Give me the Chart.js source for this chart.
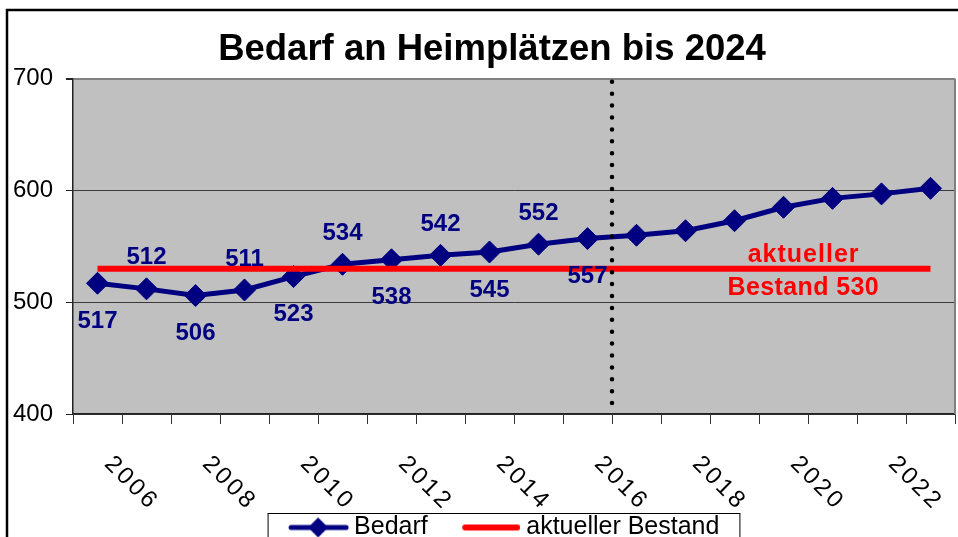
<!DOCTYPE html>
<html>
<head>
<meta charset="utf-8">
<script src="https://cdn.jsdelivr.net/npm/chart.js@4"></script>
<style>
  html, body { margin: 0; padding: 0; overflow: hidden; background: #fff; }
  #wrap { width: 958px; height: 550px; }
</style>
</head>
<body>
<div id="wrap"><canvas id="c" width="958" height="550"></canvas></div>
<script>
// ---- data ----
const years = ['2006','2007','2008','2009','2010','2011','2012','2013','2014','2015','2016','2017','2018','2019','2020','2021','2022','2023'];
const tickLabels = ['2006','2008','2010','2012','2014','2016','2018','2020','2022'];
const bedarf = [517, 512, 506, 511, 523, 534, 538, 542, 545, 552, 557, 560, 564, 573, 585, 593, 597, 602];
const bestand = [530, 530, 530, 530, 530, 530, 530, 530, 530, 530, 530, 530, 530, 530, 530, 530, 530, 530];
const labelledYears = ['2006','2007','2008','2009','2010','2011','2012','2013','2014','2015','2016'];
const markerYear = '2016';
const yTicks = [400, 500, 600, 700];
const titleText = 'Bedarf an Heimplätzen bis 2024';
const seriesNames = ['Bedarf', 'aktueller Bestand'];
const bestandText = ['aktueller', 'Bestand'];

const FONT = "'Liberation Sans', Arial, Helvetica, sans-serif";
const NAVY = '#000080';
const RED = '#FF0000';

// draw text with manual letter spacing
function spacedText(ctx, text, x, y, spacing, align) {
  const chars = Array.from(text);
  const widths = chars.map(ch => ctx.measureText(ch).width);
  const total = widths.reduce((s, w) => s + w, 0) + spacing * (chars.length - 1);
  let cx = x;
  if (align === 'center') cx = x - total / 2;
  else if (align === 'right') cx = x - total;
  const prevAlign = ctx.textAlign;
  ctx.textAlign = 'left';
  chars.forEach((ch, i) => {
    ctx.fillText(ch, cx, y);
    cx += widths[i] + spacing;
  });
  ctx.textAlign = prevAlign;
}

// legend icons
function makeBedarfIcon() {
  const c = document.createElement('canvas');
  c.width = 92; c.height = 26;
  const g = c.getContext('2d');
  g.strokeStyle = NAVY; g.lineWidth = 5; g.lineCap = 'round';
  g.beginPath(); g.moveTo(34, 13); g.lineTo(89, 13); g.stroke();
  g.fillStyle = NAVY;
  g.beginPath(); g.moveTo(61, 3); g.lineTo(71, 13); g.lineTo(61, 23); g.lineTo(51, 13); g.closePath(); g.fill();
  return c;
}
function makeBestandIcon() {
  const c = document.createElement('canvas');
  c.width = 90; c.height = 10;
  const g = c.getContext('2d');
  g.strokeStyle = RED; g.lineWidth = 6; g.lineCap = 'round';
  g.beginPath(); g.moveTo(35, 5); g.lineTo(87, 5); g.stroke();
  return c;
}
const icons = [makeBedarfIcon(), makeBestandIcon()];

const decorPlugin = {
  id: 'decor',
  afterLayout(chart) {
    // let the y tick labels use the space left of the scale box (avoid clipping)
    const ys = chart.scales.y;
    ys.left = 0;
    ys.width = ys.right;
  },
  beforeDraw(chart) {
    const {ctx, chartArea: a} = chart;
    ctx.save();
    ctx.fillStyle = '#C0C0C0';
    ctx.fillRect(a.left, a.top, a.right - a.left, a.bottom - a.top);
    // outer frame
    ctx.strokeStyle = '#000';
    ctx.lineWidth = 2.5;
    ctx.beginPath();
    ctx.moveTo(7, chart.height + 5);
    ctx.lineTo(7, 10);
    ctx.lineTo(chart.width + 5, 10);
    ctx.stroke();
    ctx.restore();
  },
  beforeDatasetsDraw(chart) {
    const {ctx, chartArea: a} = chart;
    ctx.save();
    ctx.strokeStyle = '#808080';
    ctx.lineWidth = 2;
    ctx.beginPath();
    ctx.moveTo(a.right, a.top);
    ctx.lineTo(a.right, a.bottom);
    ctx.stroke();
    ctx.restore();
  },
  afterDatasetsDraw(chart) {
    const {ctx, chartArea: a} = chart;
    const xs = chart.scales.x, ys = chart.scales.y;
    ctx.save();
    // dotted divider after marker year
    const mi = years.indexOf(markerYear);
    const dx = (xs.getPixelForValue(mi) + xs.getPixelForValue(mi + 1)) / 2;
    ctx.strokeStyle = '#000';
    ctx.lineWidth = 4.5;
    ctx.lineCap = 'round';
    ctx.setLineDash([0, 11.9]);
    ctx.beginPath();
    ctx.moveTo(dx, a.top + 3);
    ctx.lineTo(dx, a.bottom - 6);
    ctx.stroke();
    ctx.setLineDash([]);

    // data labels for Bedarf
    const meta = chart.getDatasetMeta(0);
    ctx.font = 'bold 24px ' + FONT;
    ctx.fillStyle = NAVY;
    ctx.textAlign = 'center';
    ctx.textBaseline = 'middle';
    labelledYears.forEach((yr) => {
      const i = years.indexOf(yr);
      const p = meta.data[i];
      const dy = (i % 2 === 0) ? 38 : -31;
      ctx.fillText(String(bedarf[i]), p.x, p.y + dy);
    });

    // Bestand annotation
    const by = ys.getPixelForValue(bestand[0]);
    const bx = xs.getPixelForValue(14.4);
    ctx.font = 'bold 25px ' + FONT;
    ctx.fillStyle = RED;
    spacedText(ctx, bestandText[0], bx, by - 14, 1, 'center');
    spacedText(ctx, bestandText[1] + ' ' + bestand[0], bx, by + 19, 0.4, 'center');

    // rotated x tick labels
    ctx.font = '24px ' + FONT;
    ctx.fillStyle = '#000';
    ctx.textBaseline = 'alphabetic';
    years.forEach((yr, i) => {
      if (!tickLabels.includes(yr)) return;
      const x = xs.getPixelForValue(i);
      ctx.save();
      ctx.translate(x + 6, xs.top + 51);
      ctx.rotate(Math.PI / 4);
      spacedText(ctx, yr, 0, 0, 3, 'left');
      ctx.restore();
    });
    ctx.restore();
  },
  afterDraw(chart) {
    const lg = chart.legend;
    if (!lg || !lg.legendHitBoxes || !lg.legendHitBoxes.length) return;
    const hb = lg.legendHitBoxes;
    const left = hb[0].left + 3;
    const last = hb[hb.length - 1];
    const right = last.left + last.width + 20;
    const ctx = chart.ctx;
    ctx.save();
    ctx.strokeStyle = '#000';
    ctx.lineWidth = 1;
    ctx.strokeRect(left + 0.5, lg.top + 7.5, right - left, chart.height);
    ctx.restore();
  }
};

const defaultGen = Chart.defaults.plugins.legend.labels.generateLabels;

new Chart(document.getElementById('c'), {
  type: 'line',
  data: {
    labels: years,
    datasets: [
      {
        label: seriesNames[0],
        data: bedarf,
        order: 1,
        borderColor: NAVY,
        backgroundColor: NAVY,
        borderWidth: 5,
        pointStyle: 'rectRot',
        pointRadius: 11,
        pointBorderWidth: 1,
        pointBackgroundColor: NAVY,
        pointBorderColor: NAVY,
        tension: 0,
        fill: false
      },
      {
        label: seriesNames[1],
        data: bestand,
        order: 0,
        borderColor: RED,
        backgroundColor: RED,
        borderWidth: 6,
        pointRadius: 0,
        tension: 0,
        fill: false
      }
    ]
  },
  options: {
    responsive: false,
    animation: false,
    events: [],
    devicePixelRatio: 1,
    layout: { autoPadding: false, padding: { left: 29, right: 3, top: 10, bottom: 0 } },
    font: { family: FONT },
    plugins: {
      tooltip: { enabled: false },
      title: {
        display: true,
        text: titleText,
        color: '#000',
        font: { family: FONT, size: 36.5, weight: 'bold', lineHeight: 1.2 },
        padding: { top: 18, bottom: 7 }
      },
      legend: {
        display: true,
        position: 'bottom',
        labels: {
          color: '#000',
          font: { family: FONT, size: 25 },
          usePointStyle: true,
          pointStyleWidth: 77,
          boxWidth: 77,
          padding: 9,
          sort: (a, b) => a.datasetIndex - b.datasetIndex,
          generateLabels(chart) {
            const items = defaultGen(chart);
            items.forEach(it => { it.pointStyle = icons[it.datasetIndex]; it.lineWidth = 0; });
            return items;
          }
        }
      }
    },
    scales: {
      x: {
        type: 'category',
        offset: true,
        grid: {
          offset: true,
          drawOnChartArea: false,
          drawTicks: true,
          tickLength: 10,
          color: '#333',
          lineWidth: 1
        },
        border: { display: true, color: '#222', width: 1.5 },
        ticks: { display: false },
        afterFit(scale) { scale.height = 92; }
      },
      y: {
        min: 400,
        max: 700,
        afterBuildTicks(scale) { scale.ticks = yTicks.map(v => ({ value: v })); },
        grid: {
          color: (c) => (c.tick && c.tick.value === 700) ? '#808080' : '#3a3a3a',
          tickColor: '#222',
          lineWidth: (c) => (c.tick && c.tick.value === 700) ? 2 : 1,
          drawTicks: true,
          tickLength: 7
        },
        border: { display: true, color: '#222', width: 1.5 },
        ticks: {
          color: '#000',
          font: { family: FONT, size: 24 },
          padding: 13,
          callback: (v) => String(v)
        },
        afterFit(scale) { scale.width = 44; }
      }
    }
  },
  plugins: [decorPlugin]
});
</script>
</body>
</html>
